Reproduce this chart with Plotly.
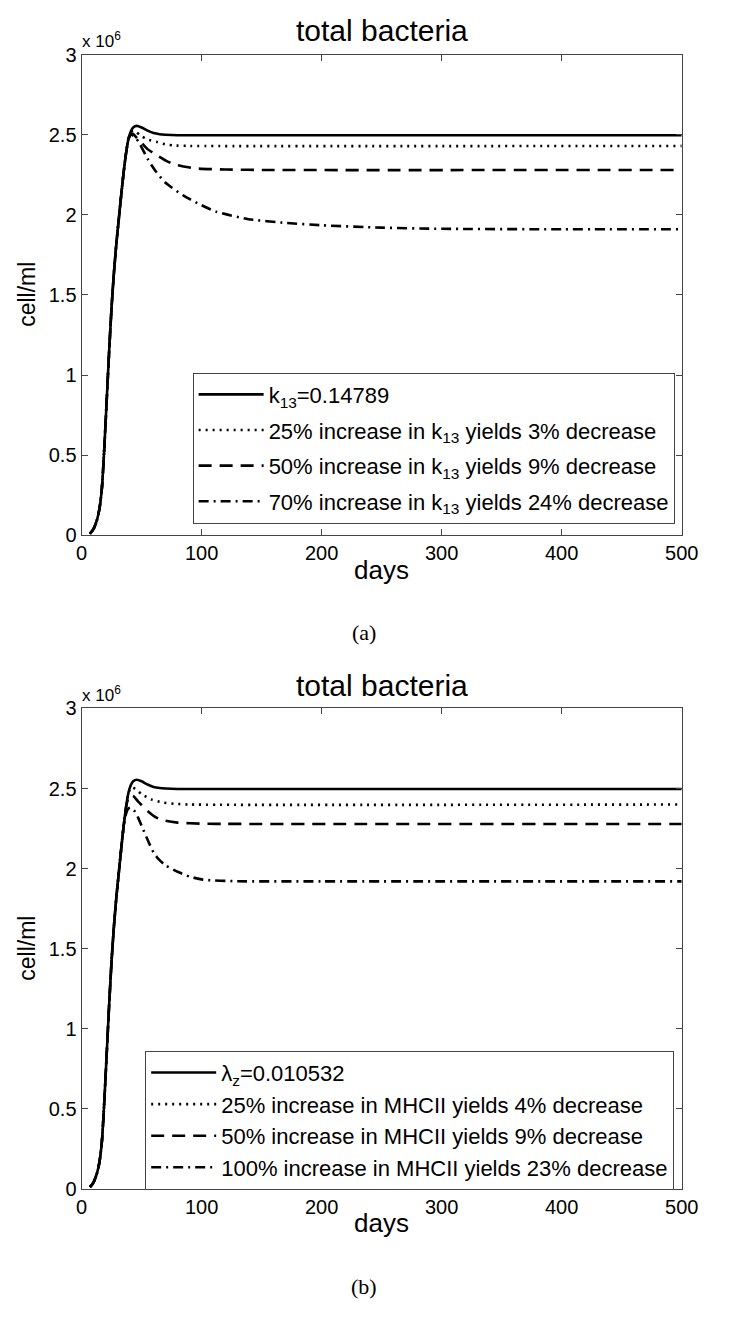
import plotly.graph_objects as go

# ---------------- data (values in units of 10^6 cell/ml) ----------------
rise_days = [7, 10, 13, 15, 17, 19, 21, 23, 25, 27, 29, 31, 33, 35, 37, 39]
rise_vals = [0.01, 0.04, 0.10, 0.17, 0.30, 0.55, 0.85, 1.15, 1.42, 1.64, 1.82, 1.97, 2.12, 2.26, 2.38, 2.47]

# panel (a)
solid_a_days = rise_days + [41, 43, 46, 50, 55, 60, 65, 70, 80, 100, 500]
solid_a_vals = rise_vals + [2.52, 2.545, 2.555, 2.545, 2.525, 2.51, 2.503, 2.50, 2.497, 2.497, 2.497]

dotted_a_days = rise_days + [41, 43, 45, 50, 55, 63, 70, 77, 90, 500]
dotted_a_vals = rise_vals + [2.515, 2.525, 2.52, 2.49, 2.47, 2.454, 2.44, 2.433, 2.43, 2.43]

dashed_a_days = rise_days + [41, 43, 46, 50, 55, 63, 71, 80, 95, 120, 150, 500]
dashed_a_vals = rise_vals + [2.505, 2.505, 2.48, 2.45, 2.41, 2.37, 2.335, 2.31, 2.29, 2.283, 2.28, 2.28]

dashdot_a_days = rise_days + [41, 44, 48, 55, 62, 70, 85, 100, 112, 139, 170, 200, 250, 300, 400, 500]
dashdot_a_vals = rise_vals + [2.50, 2.49, 2.45, 2.35, 2.27, 2.20, 2.12, 2.06, 2.02, 1.973, 1.95, 1.935, 1.92, 1.913, 1.91, 1.91]

# panel (b)
solid_b_days = solid_a_days
solid_b_vals = solid_a_vals

dotted_b_days = rise_days + [41, 43, 46, 50, 58, 68, 77, 90, 500]
dotted_b_vals = rise_vals + [2.505, 2.505, 2.49, 2.465, 2.432, 2.412, 2.405, 2.40, 2.40]

dashed_b_days = rise_days[:-1] + [39, 41, 43, 47, 55, 62, 69, 80, 100, 120, 500]
dashed_b_vals = rise_vals[:-1] + [2.44, 2.46, 2.455, 2.42, 2.36, 2.32, 2.30, 2.287, 2.28, 2.279, 2.278]

dashdot_b_days = rise_days[:-2] + [37, 39, 41, 44, 47, 51, 55, 60, 64, 70, 80, 90, 101, 128, 200, 500]
dashdot_b_vals = rise_vals[:-2] + [2.34, 2.375, 2.38, 2.36, 2.32, 2.25, 2.18, 2.10, 2.06, 2.02, 1.98, 1.95, 1.931, 1.921, 1.92, 1.92]

names_a = ["k<sub>13</sub>=0.14789",
           "25% increase in k<sub>13</sub> yields 3% decrease",
           "50% increase in k<sub>13</sub> yields 9% decrease",
           "70% increase in k<sub>13</sub> yields 24% decrease"]
names_b = ["λ<sub>z</sub>=0.010532",
           "25% increase in MHCII yields 4% decrease",
           "50% increase in MHCII yields 9% decrease",
           "100% increase in MHCII yields 23% decrease"]

x_ticks = [0, 100, 200, 300, 400, 500]
y_ticks = [0, 0.5, 1, 1.5, 2, 2.5, 3]
y_tick_labels = ["0", "0.5", "1", "1.5", "2", "2.5", "3"]

# ---------------- figure ----------------
W, H = 730, 1319
FONT = "Liberation Sans, Arial, sans-serif"
dashes = ["solid", "2px,5px", "13px,8px", "10px,5px,2px,5px"]

fig = go.Figure()

series_a = [(solid_a_days, solid_a_vals), (dotted_a_days, dotted_a_vals),
            (dashed_a_days, dashed_a_vals), (dashdot_a_days, dashdot_a_vals)]
series_b = [(solid_b_days, solid_b_vals), (dotted_b_days, dotted_b_vals),
            (dashed_b_days, dashed_b_vals), (dashdot_b_days, dashdot_b_vals)]

for i, ((d, v), nm, ds) in enumerate(zip(series_a, names_a, dashes)):
    fig.add_trace(go.Scatter(x=d, y=v, name=nm, mode="lines", legendgroup=f"a{i}",
                             line=dict(color="black", width=2.6, dash=ds, shape="spline", smoothing=0.6),
                             xaxis="x", yaxis="y", legend="legend"))
for (d, v), nm, ds in zip(series_b, names_b, dashes):
    fig.add_trace(go.Scatter(x=d, y=v, name=nm, mode="lines",
                             line=dict(color="black", width=2.6, dash=ds, shape="spline", smoothing=0.6),
                             xaxis="x2", yaxis="y2", legend="legend2"))

def px_x(p):
    return p / W

def px_y(p):
    return (H - p) / H

x_dom = [px_x(78), px_x(697.7)]
ya_dom = [px_y(533.3), px_y(44.3)]
yb_dom = [px_y(1197.7), px_y(709.3)]

axis_common = dict(showline=True, linecolor="#444", linewidth=1, mirror="ticks",
                   ticks="inside", ticklen=6, tickcolor="#444", showgrid=False, zeroline=False,
                   tickfont=dict(family=FONT, size=20, color="black"))

LEG_FONT = dict(family=FONT, size=22, color="black")

fig.update_layout(
    width=W, height=H, margin=dict(l=0, r=0, t=0, b=0),
    paper_bgcolor="white", plot_bgcolor="white",
    font=dict(family=FONT, color="black"),
    xaxis=dict(domain=x_dom, range=[0, 500], tickvals=x_ticks, anchor="y", **axis_common),
    yaxis=dict(domain=ya_dom, range=[0, 3], tickvals=y_ticks, ticktext=y_tick_labels, anchor="x", **axis_common),
    xaxis2=dict(domain=x_dom, range=[0, 500], tickvals=x_ticks, anchor="y2", **axis_common),
    yaxis2=dict(domain=yb_dom, range=[0, 3], tickvals=y_ticks, ticktext=y_tick_labels, anchor="x2", **axis_common),
    legend=dict(x=px_x(192.7), y=px_y(444.5), xanchor="left", yanchor="middle",
                bgcolor="white", bordercolor="#444", borderwidth=1,
                font=LEG_FONT, itemwidth=65, tracegroupgap=4),
    legend2=dict(x=px_x(143.7), y=px_y(1128), xanchor="left", yanchor="middle",
                 bgcolor="white", bordercolor="#444", borderwidth=1,
                 font=LEG_FONT, itemwidth=65, tracegroupgap=0),
)

def ann(text, xp, yp, size, family=FONT, xanchor="center", yanchor="middle", angle=0):
    return dict(text=text, x=px_x(xp), y=px_y(yp), xref="paper", yref="paper",
                xanchor=xanchor, yanchor=yanchor, textangle=angle, showarrow=False,
                font=dict(family=family, size=size, color="black"))

annots = []
for top, title_y, days_y, lab_y, lab in [(44.3, 20, 568, 632, "(a)"), (709.3, 686, 1233, 1297, "(b)")]:
    annots.append(ann("total bacteria", 388, title_y, 30))
    annots.append(ann("days", 388, days_y, 26))
    annots.append(ann("x 10<sup>6</sup>", 76, top - 2, 17, xanchor="left", yanchor="bottom"))
    annots.append(ann("cell/ml", 22, top + 244, 23, angle=-90))
    annots.append(ann(lab, 370, lab_y, 22, family="Liberation Serif, DejaVu Serif, serif"))
fig.update_layout(annotations=annots)

fig.write_html("out.html", config={"displayModeBar": False},
               post_script="document.body.style.margin='0';document.body.style.overflow='hidden';")
